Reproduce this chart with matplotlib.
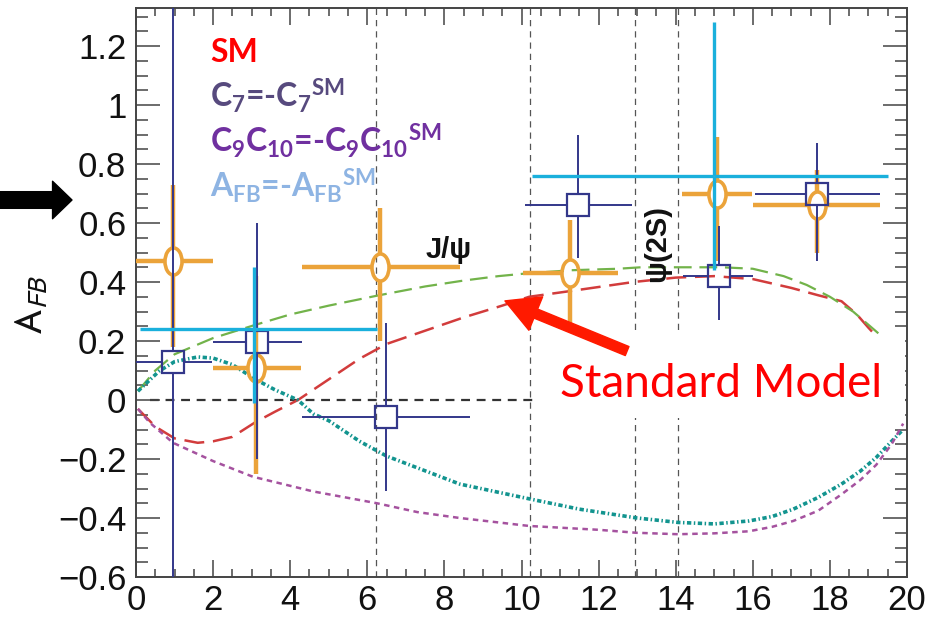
import numpy as np
import matplotlib
matplotlib.use('Agg')
import matplotlib.pyplot as plt
from matplotlib.markers import MarkerStyle
from matplotlib.transforms import Affine2D
from matplotlib.patches import Rectangle
from matplotlib.collections import LineCollection
from matplotlib.ticker import MultipleLocator

plt.rcParams['font.family'] = ['Liberation Sans', 'DejaVu Sans']
plt.rcParams['mathtext.fontset'] = 'custom'
plt.rcParams['mathtext.rm'] = 'Lato:bold'
plt.rcParams['mathtext.it'] = 'Lato:bold'
plt.rcParams['mathtext.bf'] = 'Lato:bold'

# measured points: orange circles
orange_x = [0.96, 3.11, 6.33, 11.26, 15.07, 17.66]
orange_y = [0.47, 0.11, 0.45, 0.43, 0.70, 0.66]
orange_xlo = [0.0, 2.0, 4.3, 10.04, 14.16, 16.0]
orange_xhi = [2.0, 4.28, 8.4, 12.5, 15.98, 19.3]
orange_ylo = [0.18, -0.25, 0.20, 0.26, 0.47, 0.50]
orange_yhi = [0.73, 0.42, 0.65, 0.61, 0.89, 0.78]

# measured points: navy squares
navy_x = [0.96, 3.13, 6.49, 11.47, 15.12, 17.67]
navy_y = [0.13, 0.197, -0.058, 0.66, 0.42, 0.70]
navy_xlo = [0.0, 2.0, 4.3, 10.1, 14.19, 16.05]
navy_xhi = [1.97, 4.3, 8.66, 12.87, 16.0, 19.3]
navy_ylo = [-0.7, -0.20, -0.31, 0.48, 0.27, 0.47]
navy_yhi = [1.4, 0.60, 0.26, 0.90, 0.59, 0.87]

# wide-bin averages (cyan, no marker)
cyan_x = [3.07, 15.0]
cyan_y = [0.24, 0.76]
cyan_xlo = [0.1, 10.27]
cyan_xhi = [6.25, 19.5]
cyan_ylo = [-0.01, 0.44]
cyan_yhi = [0.45, 1.28]

# theory curves
sm_q2 = [0.05, 0.5, 1.0, 1.6, 2.0, 2.5, 3.1, 3.6, 4.2, 5.0, 5.8, 6.5, 7.5, 8.5,
         9.5, 10.2, 11.3, 12.9, 14.0, 15.0, 16.0, 17.0, 17.7, 18.3, 18.7, 19.0,
         19.2, 19.5]
sm_afb = [-0.03, -0.09, -0.13, -0.145, -0.14, -0.125, -0.075, -0.04, 0.0, 0.07,
          0.14, 0.19, 0.235, 0.28, 0.32, 0.35, 0.37, 0.40, 0.415, 0.42, 0.41,
          0.38, 0.355, 0.335, 0.29, 0.245, 0.217, 0.16]

c910_q2 = [0.05, 0.5, 1.0, 2.0, 3.1, 4.0, 5.0, 6.3, 7.5, 8.5, 9.4, 10.2, 11.3,
           12.5, 13.1, 14.3, 15.2, 16.0, 16.8, 17.4, 18.0, 18.6, 19.0, 19.4, 19.7]
c910_afb = [0.03, 0.10, 0.155, 0.21, 0.255, 0.29, 0.32, 0.355, 0.385, 0.405,
            0.42, 0.43, 0.44, 0.445, 0.45, 0.45, 0.45, 0.445, 0.42, 0.39, 0.35,
            0.30, 0.255, 0.21, 0.17]

c7_q2 = [0.05, 0.6, 1.0, 1.6, 2.0, 2.5, 3.1, 3.6, 4.2, 4.6, 5.0, 5.8, 6.5, 7.5,
         8.4, 9.3, 10.2, 11.5, 13.0, 14.06, 15.0, 15.9, 16.5, 17.05, 17.7, 18.3,
         18.8, 19.2, 19.6, 19.9]
c7_afb = [0.03, 0.098, 0.13, 0.146, 0.142, 0.12, 0.07, 0.035, 0.0, -0.047, -0.07,
          -0.14, -0.19, -0.24, -0.285, -0.31, -0.335, -0.37, -0.40, -0.415, -0.42,
          -0.41, -0.395, -0.37, -0.33, -0.285, -0.24, -0.195, -0.14, -0.10]

flip_q2 = [0.05, 0.36, 0.96, 2.0, 3.03, 4.6, 6.25, 7.3, 8.4, 10.2, 12.0, 12.97,
           14.06, 15.0, 15.9, 16.5, 17.05, 17.7, 18.3, 18.8, 19.2, 19.6, 19.9]
flip_afb = [-0.03, -0.077, -0.145, -0.207, -0.26, -0.31, -0.35, -0.38, -0.40,
            -0.427, -0.44, -0.45, -0.455, -0.452, -0.445, -0.43, -0.41, -0.375,
            -0.32, -0.27, -0.22, -0.15, -0.08]

# resonance veto boundaries
veto_q2 = [6.22, 10.22, 12.95, 14.05]

x_ticks = [0, 2, 4, 6, 8, 10, 12, 14, 16, 18, 20]
y_ticks = [-0.6, -0.4, -0.2, 0, 0.2, 0.4, 0.6, 0.8, 1.0, 1.2]
y_tick_labels = ['\u22120.6', '\u22120.4', '\u22120.2', '0', '0.2', '0.4',
                 '0.6', '0.8', '1', '1.2']

ORANGE = '#eba33a'
NAVY = '#33378a'
CYAN = '#1ab0dc'

fig = plt.figure(figsize=(9.36, 6.24), dpi=100)
ax = fig.add_axes([136 / 936, 1 - 577 / 624, 771 / 936, 569 / 624])
ax.set_xlim(0, 20)
ax.set_ylim(-0.6, 1.329)


def draw_cross(x, y, xlo, xhi, ylo, yhi, gx, gy, **kw):
    # error bars stop at the edge of the marker (gx, gy in pixels)
    p0 = ax.transData.transform((0, 0))
    p1 = ax.transData.transform((1, 1))
    dx = gx / (p1[0] - p0[0])
    dy = gy / (p1[1] - p0[1])
    segs = []
    for xi, yi, a, b, c, d in zip(x, y, xlo, xhi, ylo, yhi):
        segs += [[(a, yi), (xi - dx, yi)], [(xi + dx, yi), (b, yi)],
                 [(xi, c), (xi, yi - dy)], [(xi, yi + dy), (xi, d)]]
    lc = LineCollection(segs, capstyle='butt', **kw)
    ax.add_collection(lc)


for v in veto_q2:
    ax.axvline(v, color='#555555', lw=0.9, ls=(0, (5, 4)), zorder=1)
ax.plot([0.36, 20], [0, 0], color='#333333', lw=1.6, ls=(0, (4, 3)), zorder=1)

ax.plot(sm_q2, sm_afb, color='#d23c3c', lw=1.8, ls=(0, (8, 3.5)), zorder=2)
ax.plot(c910_q2, c910_afb, color='#72b34a', lw=1.6, ls=(0, (8, 3.5)), zorder=2)
ax.plot(c7_q2, c7_afb, color='#12948f', lw=2.6, ls=(0, (1.2, 0.7, 0.4, 0.7)), zorder=2)
ax.plot(flip_q2, flip_afb, color='#a5529f', lw=1.8, ls=(0, (2.2, 1.8)), zorder=2)

ellipse = MarkerStyle('o', fillstyle='none', transform=Affine2D().scale(0.63, 1.0))
draw_cross(orange_x, orange_y, orange_xlo, orange_xhi, orange_ylo, orange_yhi,
           8.5, 13.5, colors=ORANGE, linewidths=3.2, zorder=3)
ax.plot(orange_x, orange_y, ls='none', marker=ellipse, ms=19.5, mec=ORANGE,
        mew=2.6, zorder=3)

draw_cross(navy_x, navy_y, navy_xlo, navy_xhi, navy_ylo, navy_yhi,
           11, 11, colors=NAVY, linewidths=1.4, zorder=4)
ax.plot(navy_x, navy_y, ls='none', marker='s', ms=16, mfc='none', mec=NAVY,
        mew=1.6, zorder=4)

draw_cross(cyan_x, cyan_y, cyan_xlo, cyan_xhi, cyan_ylo, cyan_yhi,
           0, 0, colors=CYAN, linewidths=2.4, zorder=5)

# resonance labels
ax.text(7.5, 0.48, 'J/\u03c8', fontsize=21, fontweight='bold', color='#111111',
        ha='left', va='baseline')
ax.text(13.52, 0.53, '\u03c8(2S)', fontsize=21, fontweight='bold',
        color='#111111', rotation=90, ha='center', va='center')

# model labels
legend_font = dict(family=['Lato', 'DejaVu Sans'], fontweight='bold',
                   fontsize=23, transform=ax.transAxes, ha='left', va='baseline')
ax.text(0.096, 0.905, 'SM', color='#ff0000', **legend_font)
ax.text(0.096, 0.824, 'C$_7$=-C$_7{}^{SM}$', color='#574a7e', **legend_font)
ax.text(0.096, 0.745, 'C$_9$C$_{10}$=-C$_9$C$_{10}{}^{SM}$', color='#7030a0',
        **legend_font)
ax.text(0.096, 0.666, 'A$_{FB}$=-A$_{FB}{}^{SM}$', color='#8eb4e3', **legend_font)

# standard model callout
ax.add_patch(Rectangle((0.521, 0.279), 0.476, 0.146, transform=ax.transAxes,
                       facecolor='white', edgecolor='none', zorder=6))
ax.text(0.550, 0.316, 'Standard Model', transform=ax.transAxes,
        family=['Lato', 'DejaVu Sans'], fontsize=33, color='#ff0000',
        ha='left', va='baseline', zorder=7)
ax.annotate('', xy=(9.57, 0.336), xytext=(12.74, 0.166),
            arrowprops=dict(arrowstyle='simple,head_length=24,head_width=26,tail_width=7',
                            mutation_scale=1, color='#ff1a00', shrinkA=0, shrinkB=0),
            zorder=8)

# arrow pointing at the axis
ax.annotate('', xy=(72 / 936, 1 - 200 / 624), xytext=(0.0, 1 - 200 / 624),
            xycoords='figure fraction', textcoords='figure fraction',
            arrowprops=dict(arrowstyle='simple,head_length=14,head_width=27,tail_width=12',
                            mutation_scale=1, color='black', shrinkA=0, shrinkB=0),
            annotation_clip=False)

ax.set_xticks(x_ticks)
ax.xaxis.set_minor_locator(MultipleLocator(0.5))
ax.set_yticks(y_ticks)
ax.set_yticklabels(y_tick_labels)
ax.yaxis.set_minor_locator(MultipleLocator(0.05))
ax.tick_params(axis='both', which='both', direction='in', top=True, right=True,
               colors='#444444', labelcolor='#111111', width=1.1)
ax.tick_params(axis='y', which='major', length=17, pad=7, labelsize=25)
ax.tick_params(axis='y', which='minor', length=8.5)
ax.tick_params(axis='x', which='major', length=12, pad=5, labelsize=25)
ax.tick_params(axis='x', which='minor', length=6)
for s in ax.spines.values():
    s.set_color('#444444')
    s.set_linewidth(1.4)

ax.set_ylabel(r'$\mathrm{A}_{FB}$', fontsize=28, math_fontfamily='stixsans',
              color='#111111')
ax.yaxis.set_label_coords(-0.134, 0.478)
ax.yaxis.label.set_va('center')

fig.savefig('out.png', dpi=100)
